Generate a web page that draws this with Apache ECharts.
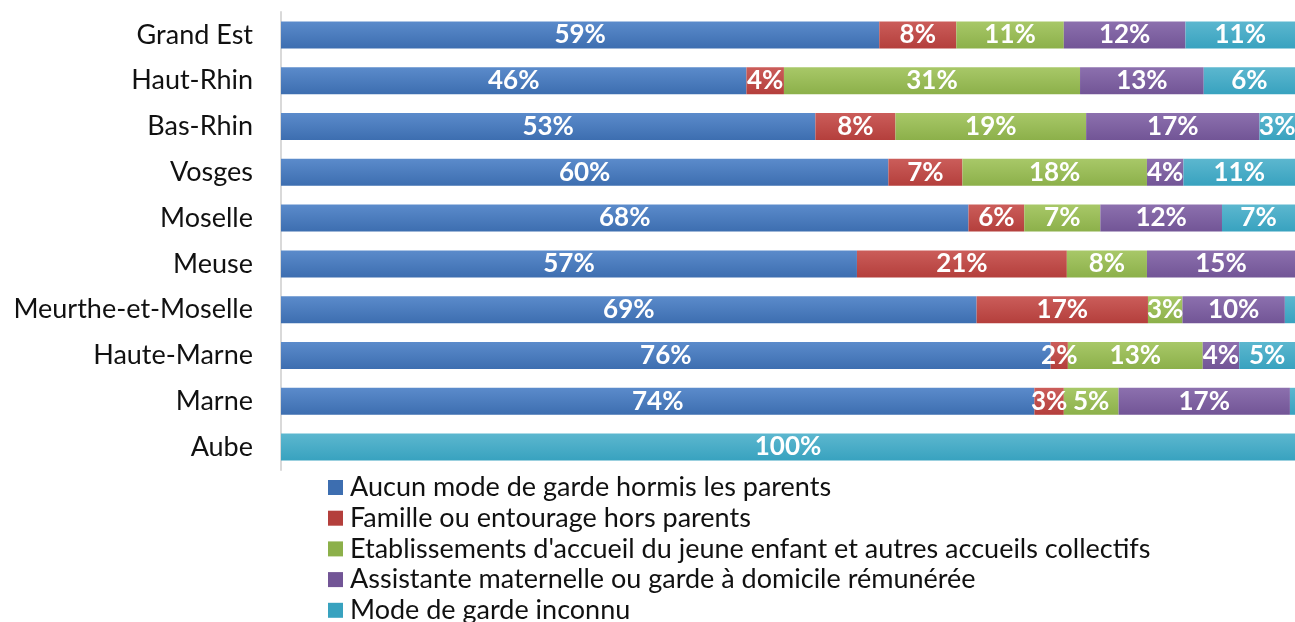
<!DOCTYPE html>
<html>
<head>
<meta charset="utf-8">
<script src="https://cdn.jsdelivr.net/npm/echarts@6/dist/echarts.min.js"></script>
<style>
  html, body { margin: 0; padding: 0; background: #fff; }
  #chart { width: 1295px; height: 622px; }
</style>
</head>
<body>
<div id="chart"></div>
<script>
// départements (haut -> bas)
const categories = ['Grand Est', 'Haut-Rhin', 'Bas-Rhin', 'Vosges', 'Moselle', 'Meuse',
  'Meurthe-et-Moselle', 'Haute-Marne', 'Marne', 'Aube'];

const seriesNames = [
  'Aucun mode de garde hormis les parents',
  'Famille ou entourage hors parents',
  "Etablissements d'accueil du jeune enfant et autres accueils collectifs",
  'Assistante maternelle ou garde à domicile rémunérée',
  'Mode de garde inconnu'
];

// largeurs des barres (%)
const aucun = [59.0, 45.9, 52.7, 59.9, 67.8, 56.8, 68.6, 75.9, 74.3, 0];
const famille = [7.6, 3.7, 7.9, 7.3, 5.5, 20.7, 16.9, 1.7, 2.9, 0];
const etablissements = [10.6, 29.2, 18.8, 18.2, 7.5, 7.9, 3.4, 13.3, 5.4, 0];
const assistante = [12.0, 12.2, 17.1, 3.6, 12.0, 14.6, 10.1, 3.6, 16.9, 0];
const inconnu = [10.8, 9.0, 3.5, 11.0, 7.2, 0, 1.0, 5.5, 0.5, 100];

// étiquettes affichées
const aucunLabels = ['59%', '46%', '53%', '60%', '68%', '57%', '69%', '76%', '74%', ''];
const familleLabels = ['8%', '4%', '8%', '7%', '6%', '21%', '17%', '2%', '3%', ''];
const etablissementsLabels = ['11%', '31%', '19%', '18%', '7%', '8%', '3%', '13%', '5%', ''];
const assistanteLabels = ['12%', '13%', '17%', '4%', '12%', '15%', '10%', '4%', '17%', ''];
const inconnuLabels = ['11%', '6%', '3%', '11%', '7%', '', '', '5%', '', '100%'];

const colors = [
  ['#5b8bcb', '#3d6eb0'],
  ['#cb5d5a', '#b43f3c'],
  ['#a8c868', '#8cb04a'],
  ['#8c70ae', '#725596'],
  ['#5cb7cf', '#38a2bf']
];

const values = [aucun, famille, etablissements, assistante, inconnu];
const labels = [aucunLabels, familleLabels, etablissementsLabels, assistanteLabels, inconnuLabels];

const chart = echarts.init(document.getElementById('chart'));

const series = seriesNames.map((name, i) => ({
  name: name,
  type: 'bar',
  stack: 'total',
  barWidth: 27,
  data: values[i],
  itemStyle: {
    color: new echarts.graphic.LinearGradient(0, 0, 0, 1, [
      { offset: 0, color: colors[i][0] },
      { offset: 1, color: colors[i][1] }
    ])
  },
  label: {
    show: true,
    position: 'inside',
    color: '#fff',
    fontWeight: 'bold',
    fontSize: 26,
    fontFamily: 'Lato',
    formatter: p => labels[i][p.dataIndex]
  }
}));

chart.setOption({
  animation: false,
  grid: { left: 281, top: 12, width: 1015, height: 458 },
  xAxis: {
    type: 'value',
    min: 0,
    max: 100,
    show: false
  },
  yAxis: {
    type: 'category',
    data: categories,
    inverse: true,
    axisLine: { show: true, lineStyle: { color: '#d9d9d9', width: 2 } },
    axisTick: { show: false },
    axisLabel: { color: '#111', fontSize: 27, fontFamily: 'Lato', margin: 28 }
  },
  legend: {
    orient: 'vertical',
    left: 328,
    top: 474,
    height: 300,
    padding: 0,
    itemWidth: 15,
    itemHeight: 15,
    itemGap: 3.7,
    icon: 'rect',
    textStyle: { color: '#111', fontSize: 27, fontFamily: 'Lato', lineHeight: 25, padding: [0, 0, 0, 2] },
    data: seriesNames.map((n, i) => ({ name: n, itemStyle: { color: colors[i][1] } }))
  },
  series: series
});
</script>
</body>
</html>
